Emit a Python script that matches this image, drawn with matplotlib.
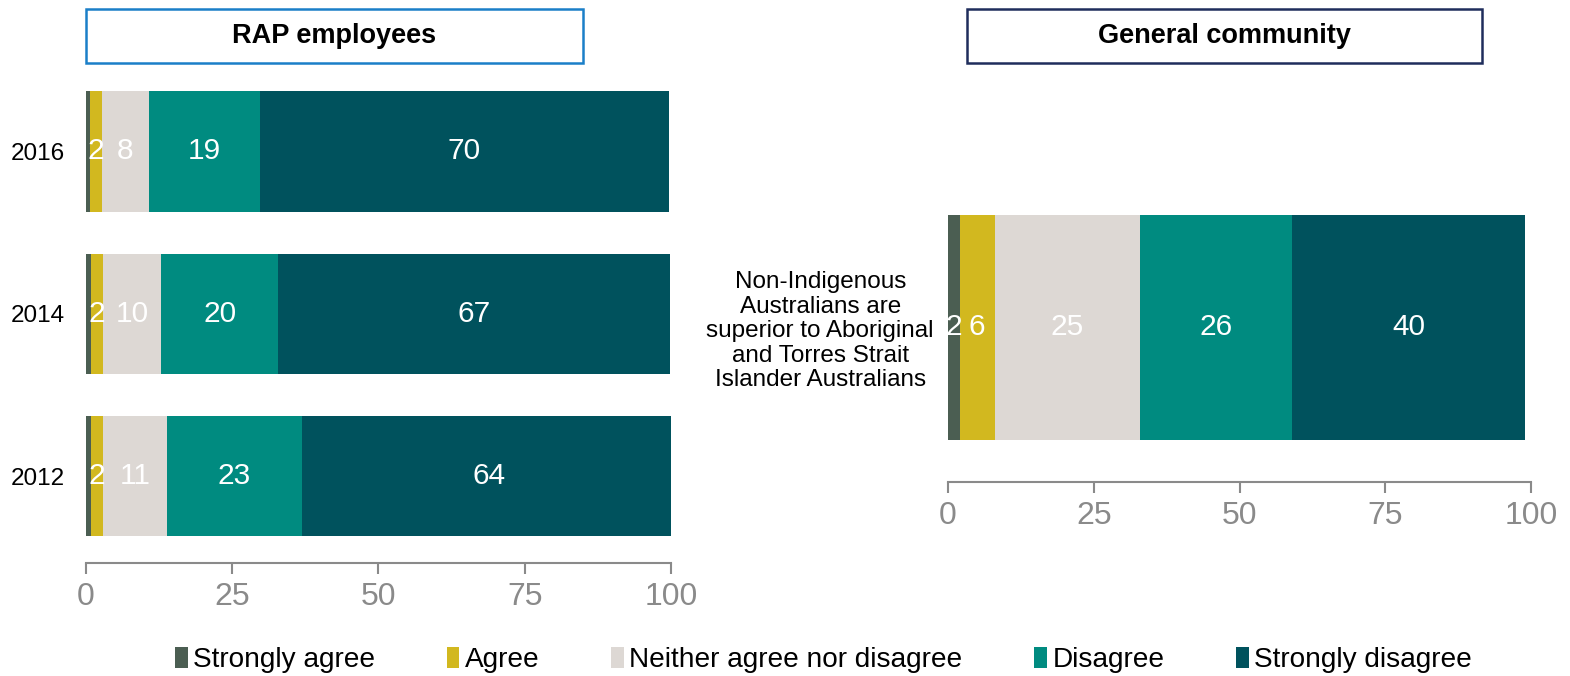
import matplotlib
matplotlib.use('Agg')
import matplotlib.pyplot as plt
from matplotlib.patches import Patch, Rectangle

plt.rcParams['font.family'] = ['Liberation Sans', 'DejaVu Sans']

# ── Data ──────────────────────────────────────────────────────────────────────
categories = ['Strongly agree', 'Agree', 'Neither agree nor disagree',
              'Disagree', 'Strongly disagree']
colors = ['#4b5e52', '#d2b81f', '#ddd8d4', '#008b80', '#00525d']

years = ['2012', '2014', '2016']
rap_values = {
    'Strongly agree':             [0.9, 0.9, 0.7],
    'Agree':                      [2, 2, 2],
    'Neither agree nor disagree': [11, 10, 8],
    'Disagree':                   [23, 20, 19],
    'Strongly disagree':          [64, 67, 70],
}
rap_labelled = [False, True, True, True, True]

community_question = ('Non-Indigenous\nAustralians are\nsuperior to Aboriginal\n'
                      'and Torres Strait\nIslander Australians')
community_values = [2, 6, 25, 26, 40]

ticks = [0, 25, 50, 75, 100]
AXIS_GREY = '#8a8a8a'


def style_axis(ax):
    for side in ('top', 'right', 'left'):
        ax.spines[side].set_visible(False)
    ax.spines['bottom'].set_color(AXIS_GREY)
    ax.spines['bottom'].set_linewidth(1.5)
    ax.set_xlim(0, 100)
    ax.set_xticks(ticks)
    ax.tick_params(axis='x', colors=AXIS_GREY, labelsize=23, length=8,
                   width=1.5, pad=6)
    ax.tick_params(axis='y', length=0)


def panel_title(x0, x1, text, edge):
    y0, y1 = 1 - 63 / 676, 1 - 9 / 676
    fig.patches.append(Rectangle((x0, y0), x1 - x0, y1 - y0,
                                 transform=fig.transFigure, fill=False,
                                 edgecolor=edge, linewidth=1.8))
    fig.text((x0 + x1) / 2, (y0 + y1) / 2, text, ha='center', va='center',
             fontsize=19.5, fontweight='bold', color='black')


fig = plt.figure(figsize=(15.70, 6.76), dpi=100)

# ── RAP employees ─────────────────────────────────────────────────────────────
ax1 = fig.add_axes([86 / 1570, 1 - 563 / 676, 585 / 1570, 483 / 676])
ypos = range(len(years))
left = [0] * len(years)
for cat, col, show in zip(categories, colors, rap_labelled):
    vals = rap_values[cat]
    bars = ax1.barh(ypos, vals, left=left, height=0.74, color=col, linewidth=0)
    if show:
        for b, v in zip(bars, vals):
            ax1.text(b.get_x() + b.get_width() / 2, b.get_y() + b.get_height() / 2,
                     f'{v:g}', ha='center', va='center', color='white', fontsize=21.5)
    left = [l + v for l, v in zip(left, vals)]
ax1.set_ylim(-0.535, 2.44)
ax1.set_yticks(list(ypos))
ax1.set_yticklabels(years, fontsize=17.5)
ax1.tick_params(axis='y', pad=15)
style_axis(ax1)

# ── General community ─────────────────────────────────────────────────────────
ax2 = fig.add_axes([948 / 1570, 1 - 482 / 676, 583 / 1570, 402 / 676])
start = 0
for cat, col, v in zip(categories, colors, community_values):
    b = ax2.barh([0], [v], left=start, height=0.8, color=col, linewidth=0)[0]
    ax2.text(b.get_x() + b.get_width() / 2, 0, f'{v:g}', ha='center',
             va='center', color='white', fontsize=21.5)
    start += v
ax2.set_ylim(-0.55, 0.88)
ax2.set_yticks([0])
ax2.set_yticklabels([community_question], fontsize=17.5, ha='center',
                    linespacing=1.15)
ax2.tick_params(axis='y', pad=92)
style_axis(ax2)

panel_title(86 / 1570, 583 / 1570, 'RAP employees', '#1a7fc8')
panel_title(967 / 1570, 1482 / 1570, 'General community', '#1f2d5c')

# ── Legend ────────────────────────────────────────────────────────────────────
handles = [Patch(facecolor=c, edgecolor='none') for c in colors]
fig.legend(handles, categories, loc='center', bbox_to_anchor=(0.5245, 1 - 660 / 676),
           ncol=5, frameon=False, fontsize=20.2, handlelength=0.45,
           handleheight=0.75, handletextpad=0.2, columnspacing=2.55)

fig.savefig('out.png', dpi=100)
